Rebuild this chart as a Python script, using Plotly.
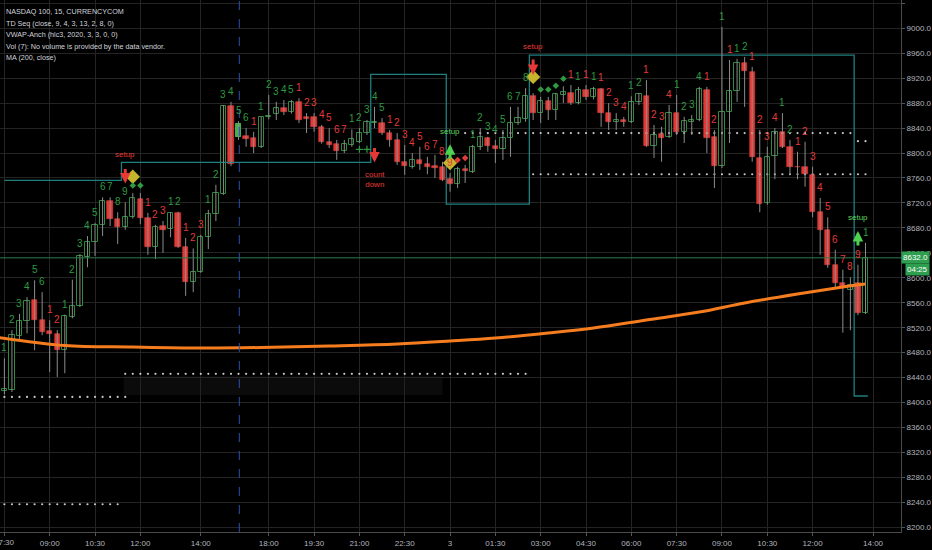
import plotly.graph_objects as go

# ---------------- data (15-min bars, NASDAQ 100 CFD) ----------------
opens = [8418, 8420, 8507, 8531, 8564, 8532, 8515, 8510, 8484, 8537,
         8555, 8633, 8657, 8685, 8723, 8695, 8681, 8697, 8726, 8696,
         8649, 8683, 8678, 8704, 8649, 8593, 8609, 8665, 8702, 8734,
         8875, 8826, 8827, 8824, 8810, 8858, 8862, 8872, 8866, 8882,
         8858, 8858, 8842, 8818, 8815, 8803, 8813, 8818, 8832, 8848,
         8848, 8832, 8821, 8786, 8778, 8789, 8782, 8779, 8778, 8758,
         8750, 8774, 8770, 8810, 8824, 8811, 8806, 8824, 8848, 8854,
         8891, 8864, 8883, 8869, 8893, 8896, 8880, 8901, 8890, 8903,
         8864, 8850, 8853, 8850, 8882, 8891, 8811, 8830, 8826, 8864,
         8834, 8850, 8853, 8901, 8826, 8779, 8866, 8900, 8944, 8930,
         8792, 8720, 8795, 8834, 8810, 8778, 8778, 8765, 8706, 8677,
         8621, 8592, 8580, 8592, 8544]
highs = [8471, 8516, 8542, 8569, 8596, 8577, 8532, 8516, 8541, 8597,
         8638, 8667, 8688, 8729, 8729, 8705, 8721, 8736, 8736, 8704,
         8685, 8691, 8705, 8706, 8664, 8647, 8669, 8709, 8749, 8877,
         8882, 8851, 8840, 8834, 8858, 8893, 8882, 8885, 8885, 8888,
         8864, 8864, 8845, 8840, 8821, 8821, 8838, 8840, 8853, 8874,
         8856, 8837, 8832, 8813, 8800, 8810, 8794, 8797, 8786, 8768,
         8778, 8781, 8813, 8840, 8826, 8821, 8837, 8874, 8874, 8904,
         8896, 8890, 8890, 8896, 8907, 8909, 8906, 8909, 8906, 8904,
         8880, 8864, 8858, 8891, 8896, 8917, 8845, 8842, 8877, 8893,
         8858, 8861, 8906, 8906, 8837, 9002, 8949, 8951, 8954, 8938,
         8837, 8810, 8840, 8864, 8821, 8802, 8818, 8778, 8728, 8697,
         8645, 8613, 8601, 8621, 8656]
lows = [8413, 8417, 8500, 8511, 8484, 8508, 8449, 8441, 8447, 8535,
        8553, 8617, 8635, 8667, 8683, 8654, 8677, 8695, 8686, 8637,
        8630, 8640, 8665, 8648, 8571, 8577, 8608, 8646, 8691, 8733,
        8779, 8821, 8810, 8800, 8808, 8854, 8853, 8861, 8863, 8848,
        8832, 8834, 8815, 8808, 8789, 8800, 8810, 8816, 8829, 8840,
        8829, 8810, 8781, 8765, 8775, 8773, 8766, 8760, 8755, 8738,
        8744, 8752, 8768, 8805, 8802, 8784, 8789, 8794, 8845, 8850,
        8853, 8848, 8853, 8853, 8880, 8877, 8878, 8885, 8886, 8842,
        8837, 8837, 8842, 8848, 8877, 8810, 8792, 8786, 8824, 8829,
        8816, 8829, 8851, 8800, 8744, 8776, 8816, 8882, 8874, 8786,
        8705, 8717, 8758, 8808, 8765, 8758, 8746, 8697, 8637, 8616,
        8585, 8512, 8516, 8540, 8542]
closes = [8422, 8508, 8531, 8563, 8532, 8513, 8510, 8484, 8539, 8555,
          8635, 8657, 8685, 8723, 8694, 8681, 8697, 8728, 8696, 8649,
          8681, 8677, 8704, 8649, 8593, 8609, 8665, 8702, 8736, 8875,
          8782, 8846, 8822, 8810, 8858, 8860, 8872, 8866, 8882, 8853,
          8854, 8842, 8818, 8813, 8803, 8815, 8822, 8832, 8850, 8849,
          8832, 8821, 8786, 8779, 8789, 8782, 8778, 8776, 8757, 8750,
          8774, 8771, 8810, 8826, 8811, 8806, 8824, 8848, 8856, 8891,
          8864, 8883, 8869, 8894, 8898, 8880, 8901, 8890, 8903, 8864,
          8850, 8853, 8850, 8882, 8894, 8811, 8829, 8824, 8864, 8834,
          8851, 8853, 8903, 8824, 8779, 8866, 8900, 8944, 8931, 8794,
          8718, 8794, 8834, 8810, 8778, 8777, 8767, 8706, 8677, 8621,
          8592, 8584, 8588, 8544, 8632]

# TD Sequential counts (0 = no label) and side (g = green, r = red)
td_count = [1, 2, 3, 4, 5, 6, 1, 2, 1, 2, 3, 4, 5, 6, 7, 8, 9, 0, 0,
            1, 2, 3, 1, 2, 1, 2, 3, 1, 2, 3, 4, 5, 6, 1, 1, 2, 3, 4, 5,
            1, 2, 3, 4, 5, 6, 7, 1, 2, 3, 4, 5, 1, 2, 3, 4, 5, 6, 7, 8, 9,
            0, 0, 1, 2, 3, 4, 5, 6, 7, 8, 0, 0, 0, 0, 0, 1, 1, 1, 1, 1,
            2, 3, 4, 1, 2, 1, 2, 3, 4, 1, 2, 3, 4, 1, 2, 1, 1, 1, 2,
            1, 2, 3, 4, 1, 2, 1, 2, 3, 4, 5, 6, 7, 8, 9, 1]
td_side = ("gggggg" "rr" "ggggggggg" "--" "rrr" "gg" "rrr" "gggggg" "r" "ggggg"
           "rrrrrrr" "ggggg" "rrrrrrrrr" "--" "gggggggg" "-----" "rgrgr" "rrr"
           "gg" "rrrr" "gggg" "rr" "g" "r" "gg" "rrrr" "gg" "rrrrrrrrr" "g")

tick_idx = [0, 6, 12, 18, 26, 35, 41, 47, 53, 59, 65, 71, 77, 83, 89, 95, 101, 107, 115]
tick_text = ["07:30", "09:00", "10:30", "12:00", "14:00", "18:00", "19:30", "21:00",
             "22:30", "3", "01:30", "03:00", "04:30", "06:00", "07:30", "09:00",
             "10:30", "12:00", "14:00"]

# MA(200) read at a few bars
ma_idx = [-0.6, 8, 17, 26, 34, 43, 52, 59, 65, 72, 78, 85, 92, 98, 105, 111, 114]
ma_vals = [8504, 8491.4, 8489, 8487.4, 8488.2, 8490.6, 8493.8, 8498.6, 8503.4,
           8511.5, 8519.5, 8532.3, 8545.1, 8559.6, 8574, 8585.2, 8590]

# TDST step line
tdst_idx = [0, 15.5, 48.5, 58.5, 69.5, 112.5, 114.3]
tdst_lvl = [8756, 8785, 8926, 8718, 8957, 8410.5, 8410.5]

# dotted levels
dot_levels = [8409, 8237, 8446, 8832, 8819, 8766]
dot_from = [0, 0, 16, 61, 113, 70]
dot_to = [16, 15, 69, 112, 114, 114]

# signal markers
big_diamond_idx = [17, 59, 70]
big_diamond_lvl = [8762, 8784, 8922]
green_dot_idx = [17, 18, 71, 72, 73, 74]
red_dot_idx = [60, 61]
plus_idx = [47, 48]
plus_lvl = 8806
last_price = 8632.0

# ---------------- styling ----------------
GREEN_TXT = "#2f9a43"
RED_TXT = "#e23b3b"
UP_LINE = "#2e8b3e"
DOWN_FILL = "#e53935"
WICK = "#8c8c8c"
GRID = "#242424"
AXIS_TXT = "#b2b5be"
FONT = "Liberation Sans Narrow, Liberation Sans, Arial"

n = len(opens)
assert len(highs) == n and len(lows) == n and len(closes) == n
assert len(td_count) == n and len(td_side) == n

fig = go.Figure()

fig.add_shape(type="rect", x0=15.8, x1=58, y0=8412, y1=8442, xref="x", yref="y",
              fillcolor="rgba(255,255,255,0.045)", line=dict(width=0), layer="below")
fig.add_shape(type="line", xref="paper", x0=0, x1=1, yref="y", y0=last_price, y1=last_price,
              line=dict(color="#2f7d4b", width=1))
fig.add_shape(type="line", xref="x", x0=31.1, x1=31.1, yref="paper", y0=0, y1=1,
              line=dict(color="#2f4fa8", width=1, dash="dash"))

fig.add_trace(go.Scatter(x=tdst_idx, y=tdst_lvl, mode="lines",
                         line=dict(color="#1f7f7f", width=1.3, shape="hv"), hoverinfo="skip"))

for lvl, a, b in zip(dot_levels, dot_from, dot_to):
    xs = list(range(a, b + 1))
    fig.add_trace(go.Scatter(x=xs, y=[lvl] * len(xs), mode="markers",
                             marker=dict(size=2.2, color="#c8c8c8"), hoverinfo="skip"))

wx, wy = [], []
for i in range(n):
    wx += [i, i, None]
    wy += [lows[i], highs[i], None]
fig.add_trace(go.Scatter(x=wx, y=wy, mode="lines", line=dict(color=WICK, width=1),
                         hoverinfo="skip"))

up_x, up_b, up_h, dn_x, dn_b, dn_h = [], [], [], [], [], []
for i in range(n):
    lo = min(opens[i], closes[i])
    h = max(abs(closes[i] - opens[i]), 1.3)
    if closes[i] >= opens[i]:
        up_x.append(i); up_b.append(lo); up_h.append(h)
    else:
        dn_x.append(i); dn_b.append(lo); dn_h.append(h)
fig.add_trace(go.Bar(x=up_x, y=up_h, base=up_b, width=0.7,
                     marker=dict(color="#000000", line=dict(color=UP_LINE, width=1)),
                     hoverinfo="skip"))
fig.add_trace(go.Bar(x=dn_x, y=dn_h, base=dn_b, width=0.7,
                     marker=dict(color=DOWN_FILL, line=dict(color=DOWN_FILL, width=0.6)),
                     hoverinfo="skip"))
hl = 31
fig.add_trace(go.Bar(x=[hl], y=[closes[hl] - opens[hl]], base=[opens[hl]], width=0.7,
                     marker=dict(color="#43b14b", line=dict(color="#43b14b", width=1)),
                     hoverinfo="skip"))

fig.add_trace(go.Scatter(x=ma_idx, y=ma_vals, mode="lines",
                         line=dict(color="#f57c1f", width=3, shape="spline"), hoverinfo="skip"))

fig.add_trace(go.Scatter(x=big_diamond_idx, y=big_diamond_lvl, mode="markers",
                         marker=dict(symbol="diamond", size=11, color="#c6b52c"), hoverinfo="skip"))
fig.add_trace(go.Scatter(x=green_dot_idx, y=[highs[i] + 12 for i in green_dot_idx], mode="markers",
                         marker=dict(symbol="diamond", size=5, color=GREEN_TXT), hoverinfo="skip"))
fig.add_trace(go.Scatter(x=red_dot_idx, y=[highs[i] + 11 for i in red_dot_idx], mode="markers",
                         marker=dict(symbol="diamond", size=5, color=RED_TXT), hoverinfo="skip"))
fig.add_trace(go.Scatter(x=plus_idx, y=[plus_lvl] * len(plus_idx), mode="markers",
                         marker=dict(symbol="cross-thin", size=5,
                                     line=dict(color=GREEN_TXT, width=1.2)), hoverinfo="skip"))

annotations = []
for i in range(n):
    if td_count[i] == 0:
        continue
    col = GREEN_TXT if td_side[i] == "g" else RED_TXT
    annotations.append(dict(x=i, y=highs[i], xref="x", yref="y", text=str(td_count[i]),
                            showarrow=False, yanchor="bottom", yshift=3,
                            font=dict(family=FONT, size=10, color=col)))

def arrow(i, y, ay, col):
    annotations.append(dict(x=i, y=y, xref="x", yref="y", text="", showarrow=True,
                            ax=0, ay=ay, arrowhead=2, arrowsize=0.7, arrowwidth=3,
                            arrowcolor=col))

arrow(16, 8751, -16, "#e53935")
arrow(70, 8925, -17, "#e53935")
arrow(49, 8785, -16, "#e53935")
arrow(59, 8814, 16, "#4fd04f")
arrow(113, 8675, 16, "#4fd04f")

def label(i, y, txt, col):
    annotations.append(dict(x=i, y=y, xref="x", yref="y", text=txt, showarrow=False,
                            font=dict(family=FONT, size=8, color=col)))

label(16, 8798, "setup", "#e53935")
label(70, 8971, "setup", "#e53935")
label(59, 8835, "setup", "#5fd35f")
label(113, 8697, "setup", "#5fd35f")
label(49, 8758, "count<br>down", "#e53935")

header = ["NASDAQ 100, 15, CURRENCYCOM",
          "TD Seq (close, 9, 4, 3, 13, 2, 8, 0)",
          "VWAP-Anch (hlc3, 2020, 3, 3, 0, 0)",
          "Vol (7): No volume is provided by the data vendor.",
          "MA (200, close)"]
for k, t in enumerate(header):
    annotations.append(dict(x=0, y=1, xref="paper", yref="paper", text=t, showarrow=False,
                            xanchor="left", yanchor="middle", xshift=4, yshift=-11.5 - 11.5 * k,
                            font=dict(family=FONT, size=7.2, color="#d1d4dc")))

# first time label sits on the clipped left edge
annotations.append(dict(x=tick_idx[0], y=0, xref="x", yref="paper", text=tick_text[0],
                        showarrow=False, yanchor="top", yshift=-4,
                        font=dict(family=FONT, size=8, color=AXIS_TXT)))

annotations.append(dict(x=1, y=last_price, xref="paper", yref="y", text="8632.0",
                        showarrow=False, xanchor="left", yanchor="middle", xshift=0,
                        bgcolor="#2e9e4f", borderpad=1,
                        font=dict(family=FONT, size=8, color="#ffffff")))
annotations.append(dict(x=1, y=last_price, xref="paper", yref="y", text="04:25",
                        showarrow=False, xanchor="left", yanchor="middle", xshift=4, yshift=-12,
                        bgcolor="#2e9e4f", borderpad=1,
                        font=dict(family=FONT, size=8, color="#ffffff")))

ytick = list(range(8200, 9041, 40))
fig.update_layout(
    width=932, height=550,
    margin=dict(l=0, r=26, t=0, b=18),
    paper_bgcolor="#000000", plot_bgcolor="#000000",
    showlegend=False, barmode="overlay", bargap=0,
    font=dict(family=FONT, size=8, color=AXIS_TXT),
    annotations=annotations,
    xaxis=dict(range=[-0.58, 118.7], tickvals=tick_idx, ticktext=tick_text,
               showgrid=True, gridcolor=GRID, gridwidth=1, zeroline=False,
               showline=True, linecolor="#4a4a4a", ticks="outside", ticklen=3,
               tickcolor="#555555", tickfont=dict(size=8, color=AXIS_TXT, family=FONT)),
    yaxis=dict(range=[8192.5, 9045.3], side="right", tickvals=ytick,
               ticktext=[f"{v:.1f}" for v in ytick],
               showgrid=True, gridcolor=GRID, gridwidth=1, zeroline=False,
               showline=True, linecolor="#4a4a4a", ticks="outside", ticklen=3,
               tickcolor="#555555", tickfont=dict(size=8, color=AXIS_TXT, family=FONT)),
)

fig.write_html("out.html",
               config={"displayModeBar": False},
               post_script="document.body.style.margin='0px';"
                           "document.body.style.overflow='hidden';"
                           "document.body.style.background='#000';")
